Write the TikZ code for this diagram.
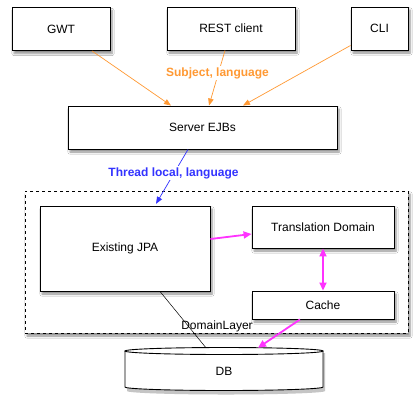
\documentclass[tikz,border=0pt]{standalone}
\usepackage{fontspec}
\setmainfont{Liberation Sans}
\usetikzlibrary{arrows.meta,shadows.blur,calc}
\definecolor{orng}{RGB}{255,153,51}
\definecolor{blu}{RGB}{51,51,255}
\definecolor{mag}{RGB}{255,51,255}
\begin{document}
\begin{tikzpicture}[x=1pt,y=-1pt,
  shd/.style={blur shadow={shadow xshift=2pt,shadow yshift=-3pt,shadow blur steps=6,shadow opacity=45}},
  box/.style={draw,line width=0.9pt,fill=white,shd,inner sep=0pt,font=\fontsize{12}{14}\selectfont},
  oarr/.style={draw=orng,line width=0.7pt,-{Triangle[length=7pt,width=5.5pt]}},
  lbl/.style={font=\fontsize{12}{14}\selectfont\bfseries},
  marr/.style={draw=mag,line width=1.8pt,-{Triangle[length=8pt,width=7pt]}}]
\useasboundingbox (0,0) rectangle (419,405);
\fill[white] (0,0) rectangle (419,405);
% dashed domain layer
\node[draw,dashed,line width=0.8pt,shd,fill=white,minimum width=383pt,minimum height=142pt,inner sep=0pt] (dom) at (216.5,262) {};
\node[box,minimum width=98pt,minimum height=43pt] (gwt) at (61,29) {GWT};
\node[box,minimum width=128pt,minimum height=43pt] (rest) at (231,28.5) {REST client};
\node[box,minimum width=57pt,minimum height=43pt] (cli) at (379.5,28.5) {CLI};
\node[box,minimum width=269pt,minimum height=43pt] (srv) at (202.5,127.5) {Server EJBs};
\node[box,minimum width=170pt,minimum height=85pt] (jpa) at (125,248.5) {Existing JPA};
\node[box,minimum width=142pt,minimum height=42pt] (td) at (323,227) {Translation Domain};
\node[box,minimum width=142pt,minimum height=28pt] (cache) at (323,305) {Cache};
% DB cylinder
\node[minimum width=198pt,minimum height=40pt,inner sep=0pt,font=\fontsize{12}{14}\selectfont] (db) at (224,368) {};
\fill[black!45,opacity=0.5] (127,353) -- (127,391) arc[start angle=180,end angle=360,x radius=99pt,y radius=3.5pt] -- (325,353) -- cycle;
\draw[line width=0.9pt,fill=white] (125,351) -- (125,387) arc[start angle=180,end angle=360,x radius=99pt,y radius=3.5pt] -- (323,351);
\draw[line width=0.9pt,fill=white] (224,351) ellipse[x radius=99pt,y radius=3.5pt];
\node[font=\fontsize{12}{14}\selectfont] at (224,371) {DB};
% connectors
\draw[oarr] ([xshift=31pt]gwt.south) -- ([xshift=-31.5pt]srv.north);
\draw[oarr] ([xshift=-6pt]rest.south) -- ([xshift=6.5pt]srv.north);
\draw[oarr] ([yshift=5pt]cli.south west) -- ([xshift=40.5pt]srv.north);
\node[lbl,text=orng,fill=white,inner sep=1pt] (l1) at (217.5,73) {Subject, language};
\draw[draw=blu,line width=0.7pt,-{Triangle[length=7pt,width=5.5pt]},shorten >=2pt] ([xshift=-14.5pt]srv.south) -- ([xshift=30pt]jpa.north);
\node[lbl,text=blu,fill=white,inner sep=1pt] (l2) at (173.5,173) {Thread local, language};
\draw[marr] ([yshift=9.5pt]jpa.east) -- ([yshift=-7pt]td.west);
\draw[draw=mag,line width=1.8pt,{Triangle[length=8pt,width=7pt]}-{Triangle[length=8pt,width=7pt]}] (td.south) -- (cache.north);
\draw[line width=0.5pt] ([xshift=35pt]jpa.south) -- ([xshift=-18pt]db.north);
\draw[marr] ([xshift=-23pt]cache.south) -- ([xshift=34pt]db.north);
\node[font=\fontsize{12}{14}\selectfont,inner sep=0pt] (dl) at (217,326) {DomainLayer};
\end{tikzpicture}
\end{document}
